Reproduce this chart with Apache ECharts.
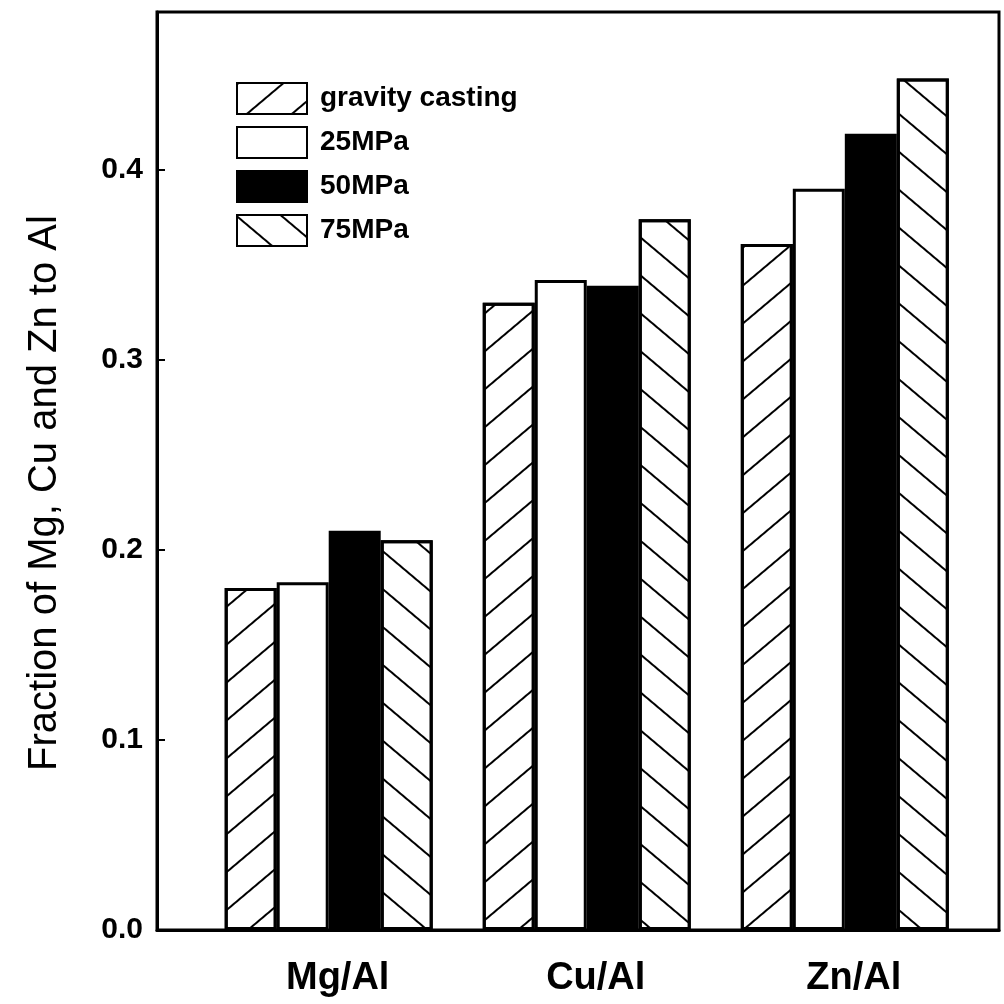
<!DOCTYPE html>
<html style="height: 100%">
<head>
	<meta charset="utf-8">
</head>
<body style="height: 100%; margin: 0; background-color: #fff;">
<div id="container" style="width: 1004px; height: 1004px"></div>
<script type="text/javascript" src="https://cdn.jsdelivr.net/npm/echarts@6/dist/echarts.min.js"></script>
<script type="text/javascript">
	// categories on the x axis (placed at x = 1, 2, 3)
	var categories = ['Mg/Al', 'Cu/Al', 'Zn/Al'];
	var seriesNames = ['gravity casting', '25MPa', '50MPa', '75MPa'];
	var gravityCasting = [0.180, 0.330, 0.361];
	var mpa25 = [0.183, 0.342, 0.390];
	var mpa50 = [0.210, 0.339, 0.419];
	var mpa75 = [0.205, 0.374, 0.448];
	var yTicks = [0.0, 0.1, 0.2, 0.3, 0.4];

	var font = '"Liberation Sans", Arial, sans-serif';

	function toPairs(arr) {
		return arr.map(function(v, i) {
			return [i + 1, v];
		});
	}

	function hatch(rot) {
		return {
			symbol: 'rect',
			symbolSize: 1,
			color: '#000',
			dashArrayX: [1, 0],
			dashArrayY: [2, 27],
			rotation: rot
		};
	}

	var dom = document.getElementById("container");
	var myChart = echarts.init(dom, null, { renderer: 'canvas' });

	var barBase = {
		type: 'bar',
		barWidth: 52,
		barGap: '0%',
		animation: false
	};

	var option = {
		animation: false,
		grid: {
			left: 157,
			right: 5,
			top: 12,
			bottom: 74,
			show: true,
			borderColor: '#000',
			borderWidth: 3
		},
		legend: {
			orient: 'vertical',
			left: 236,
			top: 82,
			padding: 0,
			icon: 'rect',
			itemWidth: 70,
			itemHeight: 31,
			itemGap: 11,
			selectedMode: false,
			textStyle: {
				fontFamily: font,
				fontWeight: 'bold',
				fontSize: 28,
				color: '#000',
				padding: [0, 0, 0, 8]
			},
			data: seriesNames
		},
		xAxis: {
			type: 'value',
			min: 0.3346,
			max: 3.5975,
			splitLine: { show: false },
			axisTick: { show: false },
			axisLine: { lineStyle: { color: '#000', width: 3 } },
			axisLabel: {
				showMinLabel: false,
				showMaxLabel: false,
				margin: 30,
				padding: [0, 0, 0, 18],
				fontFamily: font,
				fontWeight: 'bold',
				fontSize: 38,
				color: '#000',
				formatter: function(v) {
					var r = Math.round(v);
					if (Math.abs(v - r) < 1e-6 && categories[r - 1]) {
						return categories[r - 1];
					}
					return '';
				}
			}
		},
		yAxis: {
			type: 'value',
			min: 0,
			max: 0.483,
			interval: 0.1,
			name: 'Fraction of Mg, Cu and Zn to Al',
			nameLocation: 'middle',
			nameGap: 92,
			nameTextStyle: {
				fontFamily: font,
				fontSize: 40,
				color: '#000',
				padding: [0, 44, 0, 0]
			},
			splitLine: { show: false },
			axisLine: { lineStyle: { color: '#000', width: 3 } },
			axisTick: { inside: true, length: 8, lineStyle: { color: '#000', width: 2 } },
			axisLabel: {
				showMaxLabel: false,
				margin: 14,
				fontFamily: font,
				fontWeight: 'bold',
				fontSize: 30,
				color: '#000',
				formatter: function(v) {
					for (var i = 0; i < yTicks.length; i++) {
						if (Math.abs(v - yTicks[i]) < 1e-6) return yTicks[i].toFixed(1);
					}
					return '';
				}
			}
		},
		series: [
			Object.assign({}, barBase, {
				name: seriesNames[0],
				data: toPairs(gravityCasting),
				itemStyle: { color: '#fff', borderColor: '#000', borderWidth: 3, decal: hatch(-0.7) }
			}),
			Object.assign({}, barBase, {
				name: seriesNames[1],
				data: toPairs(mpa25),
				itemStyle: { color: '#fff', borderColor: '#000', borderWidth: 3 }
			}),
			Object.assign({}, barBase, {
				name: seriesNames[2],
				data: toPairs(mpa50),
				itemStyle: { color: '#000', borderColor: '#000', borderWidth: 3 }
			}),
			Object.assign({}, barBase, {
				name: seriesNames[3],
				data: toPairs(mpa75),
				itemStyle: { color: '#fff', borderColor: '#000', borderWidth: 3, decal: hatch(0.7) }
			})
		]
	};
	myChart.setOption(option);
</script>
</body>
</html>
